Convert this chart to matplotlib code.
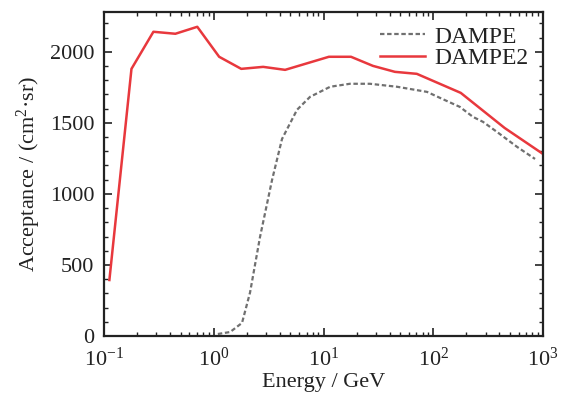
import matplotlib
matplotlib.use("Agg")
import matplotlib.pyplot as plt
from matplotlib.ticker import MultipleLocator, LogLocator, NullFormatter

plt.rcParams['font.family'] = ['Liberation Serif', 'DejaVu Serif']
plt.rcParams['mathtext.fontset'] = 'custom'
plt.rcParams['mathtext.rm'] = 'Liberation Serif'
plt.rcParams['mathtext.it'] = 'Liberation Serif:italic'

# DAMPE (gray dashed)
dampe_E = [1.09, 1.41, 1.81, 2.14, 2.64, 3.40, 4.19, 5.74, 7.54, 11.5, 17.4, 26.5,
           46.8, 87.7, 115, 175, 230, 284, 381, 580, 846]
dampe_A = [14, 28, 92, 305, 697, 1099, 1387, 1592, 1683, 1754, 1775, 1775,
           1754, 1718, 1676, 1612, 1542, 1507, 1436, 1331, 1246]

# DAMPE2 (red)
dampe2_E = [0.112, 0.178, 0.282, 0.447, 0.708, 1.12, 1.78, 2.82, 4.47, 11.2, 17.8,
            28.2, 44.7, 70.8, 178, 447, 1000]
dampe2_A = [394, 1880, 2141, 2127, 2176, 1965, 1880, 1894, 1873, 1965, 1965,
            1901, 1859, 1845, 1711, 1464, 1281]

fig = plt.figure(figsize=(5.67, 3.98), dpi=100)
ax = fig.add_axes([0.1834, 0.1558, 0.7743, 0.8140])

ax.plot(dampe_E, dampe_A, color='#707070', lw=1.6, ls=(0, (2.0, 1.2)), label='DAMPE')
ax.plot(dampe2_E, dampe2_A, color='#e8383d', lw=1.8, label='DAMPE2')

ax.set_xscale('log')
ax.set_xlim(0.1, 1000)
ax.set_ylim(0, 2280)
ax.yaxis.set_major_locator(MultipleLocator(500))
ax.yaxis.set_minor_locator(MultipleLocator(100))
ax.xaxis.set_major_locator(LogLocator(base=10, numticks=10))
ax.xaxis.set_minor_locator(LogLocator(base=10, subs=range(2, 10), numticks=100))
ax.xaxis.set_minor_formatter(NullFormatter())

ax.tick_params(which='both', direction='in', top=True, right=True, labelsize=16, colors='#222222')
ax.tick_params(which='major', length=6, width=1.2)
ax.tick_params(which='minor', length=3, width=1.0)
ax.tick_params(axis='x', pad=8)
ax.tick_params(axis='y', pad=7)
for s in ax.spines.values():
    s.set_linewidth(1.6)
    s.set_color('#222222')

ax.set_xlabel('Energy / GeV', fontsize=16, color='#222222', labelpad=2)
ax.set_ylabel('Acceptance / (cm$^2$·sr)', fontsize=16, color='#222222', labelpad=5)

leg = ax.legend(loc='upper right', frameon=False, fontsize=17, handlelength=1.9,
                handletextpad=0.4, labelspacing=0.0, borderaxespad=0.2)
for t in leg.get_texts():
    t.set_color('#222222')

fig.savefig('out.png', dpi=100)
